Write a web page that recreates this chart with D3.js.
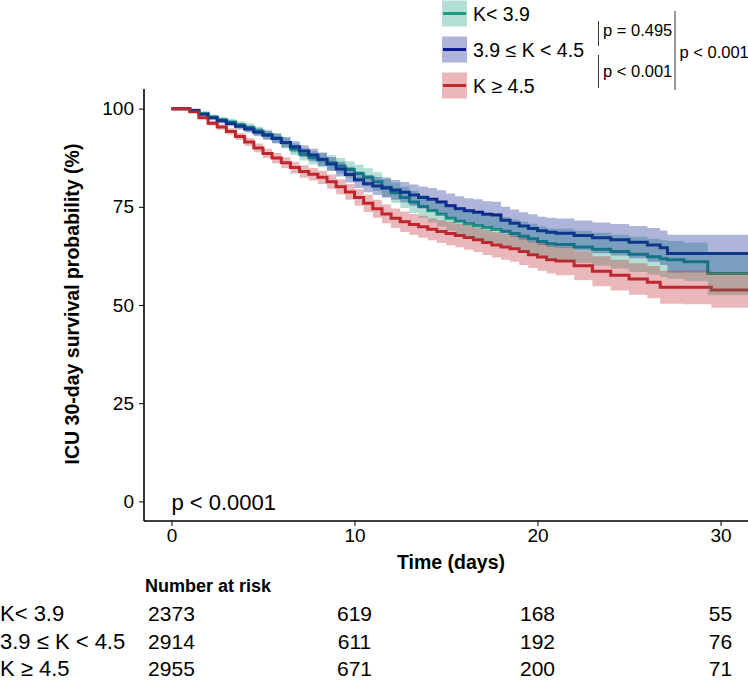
<!DOCTYPE html>
<html>
<head>
<meta charset="utf-8">
<script src="https://cdn.jsdelivr.net/npm/d3@7"></script>
<style>
  body { margin: 0; background: #fff; }
  svg text { font-family: "Liberation Sans", Arial, Helvetica, sans-serif; fill: #000; }
</style>
</head>
<body>
<svg id="svg" width="748" height="680"></svg>
<script>
// groups
var groups = ["K< 3.9", "3.9 \u2264 K < 4.5", "K \u2265 4.5"];
var colors = ["#1b9e84", "#0b1a8f", "#c0262d"];

// time grid (days) for the step curves
var days = [0, 1, 1.5, 2, 2.5, 3, 3.5, 4, 4.5, 5,
  5.5, 6, 6.5, 7, 7.5, 8, 8.5, 9, 9.5, 10,
  10.5, 11, 11.5, 12, 12.5, 13, 13.5, 14, 14.5, 15,
  15.5, 16, 16.5, 17, 17.5, 18, 18.5, 19, 19.5, 20,
  20.5, 21, 22, 23, 24, 25, 26, 26.7, 27.1, 28,
  29.3, 29.5, 31.5];

// survival (%)
var greenSurv = [100, 99.6, 98.8, 97.9, 97.2, 96.6, 95.9, 95.2, 94.3, 93.4,
  92.5, 91.3, 89.7, 88.4, 87.5, 86.9, 86.2, 85.4, 84.5, 83.5,
  82.5, 81.4, 80.0, 78.6, 77.4, 76.2, 75.1, 74.0, 73.1, 72.1,
  71.3, 70.7, 70.2, 69.7, 69.2, 68.8, 68.2, 67.5, 66.9, 66.2,
  65.6, 65.4, 64.8, 64.2, 63.6, 62.9, 62.3, 61.8, 61.5, 61.0,
  58.0, 58.0, 58.0];
var blueSurv = [100, 99.5, 98.6, 97.7, 96.9, 96.2, 95.5, 94.8, 94.0, 93.2,
  92.4, 91.4, 90.3, 89.2, 88.2, 87.1, 85.9, 84.6, 83.2, 81.9,
  80.9, 80.3, 79.8, 79.3, 78.7, 78.0, 77.4, 76.9, 76.2, 75.3,
  74.5, 74.0, 73.6, 73.1, 72.9, 71.6, 70.8, 70.1, 69.5, 68.9,
  68.5, 68.3, 67.7, 67.1, 66.6, 66.0, 65.3, 64.6, 63.1, 63.1,
  63.1, 63.1, 63.1];
var redSurv = [100, 99.2, 97.7, 96.3, 95.3, 94.2, 92.9, 91.5, 90.0, 88.6,
  87.4, 86.2, 85.0, 84.0, 83.3, 82.5, 81.4, 80.1, 78.8, 77.4,
  75.9, 74.5, 73.2, 72.1, 71.2, 70.5, 69.9, 69.3, 68.7, 68.2,
  67.7, 67.2, 66.6, 65.9, 65.3, 64.8, 64.3, 63.6, 62.8, 62.2,
  61.5, 61.2, 60.0, 58.6, 57.6, 56.6, 55.8, 54.5, 54.5, 54.5,
  54.5, 53.8, 53.8];

// confidence half-widths (%)
var greenCI = [0, 0.2, 0.4, 0.6, 0.7, 0.8, 0.9, 1.0, 1.1, 1.2,
  1.3, 1.4, 1.5, 1.6, 1.7, 1.8, 1.9, 2.0, 2.1, 2.2,
  2.3, 2.4, 2.5, 2.6, 2.7, 2.8, 2.9, 3.0, 3.1, 3.2,
  3.3, 3.4, 3.4, 3.5, 3.5, 3.6, 3.6, 3.7, 3.8, 3.8,
  3.9, 4.0, 4.1, 4.2, 4.3, 4.5, 4.6, 4.7, 4.8, 4.9,
  5.5, 5.5, 5.5];
var blueCI = [0, 0.2, 0.3, 0.5, 0.6, 0.7, 0.8, 0.9, 1.0, 1.1,
  1.2, 1.3, 1.4, 1.5, 1.6, 1.7, 1.8, 1.9, 2.0, 2.1,
  2.2, 2.3, 2.4, 2.5, 2.6, 2.7, 2.8, 2.9, 3.0, 3.1,
  3.2, 3.2, 3.3, 3.3, 3.4, 3.4, 3.5, 3.5, 3.6, 3.6,
  3.7, 3.7, 3.8, 3.9, 4.0, 4.1, 4.3, 4.4, 4.8, 4.8,
  4.8, 4.8, 4.8];
var redCI = [0, 0.2, 0.4, 0.6, 0.7, 0.8, 0.9, 1.0, 1.1, 1.2,
  1.3, 1.4, 1.5, 1.6, 1.6, 1.7, 1.8, 1.9, 2.0, 2.1,
  2.2, 2.3, 2.4, 2.5, 2.6, 2.7, 2.8, 2.8, 2.9, 3.0,
  3.0, 3.1, 3.1, 3.2, 3.2, 3.3, 3.3, 3.4, 3.4, 3.5,
  3.5, 3.6, 3.7, 3.8, 3.9, 4.0, 4.1, 4.2, 4.2, 4.3,
  4.3, 4.5, 4.5];

// number at risk
var riskTimes = [0, 10, 20, 30];
var riskGreen = [2373, 619, 168, 55];
var riskBlue = [2914, 611, 192, 76];
var riskRed = [2955, 671, 200, 71];

var xTicks = [0, 10, 20, 30];
var yTicks = [0, 25, 50, 75, 100];

var pairP = ["p = 0.495", "p < 0.001"];
var outerP = "p < 0.001";
var logRankP = "p < 0.0001";

var survs = [greenSurv, blueSurv, redSurv];
var cis = [greenCI, blueCI, redCI];
var risks = [riskGreen, riskBlue, riskRed];

var svg = d3.select("#svg");

var x = d3.scaleLinear().domain([-1.5, 31.5]).range([144, 748]);
var y = d3.scaleLinear().domain([-5, 105]).range([521, 89]);

var series = survs.map(function(s, g) {
  return days.map(function(t, i) {
    return { t: t, s: s[i], lo: s[i] - cis[g][i], hi: s[i] + cis[g][i] };
  });
});

var line = d3.line()
  .x(function(d) { return x(d.t); })
  .y(function(d) { return y(d.s); })
  .curve(d3.curveStepAfter);

var area = d3.area()
  .x(function(d) { return x(d.t); })
  .y0(function(d) { return y(d.lo); })
  .y1(function(d) { return y(d.hi); })
  .curve(d3.curveStepAfter);

// step lines first, ribbons on top (as in the original)
svg.append("g").selectAll("path")
  .data(series)
  .enter().append("path")
  .attr("d", line)
  .attr("fill", "none")
  .attr("stroke", function(d, i) { return colors[i]; })
  .attr("stroke-width", 3);

svg.append("g").selectAll("path")
  .data(series)
  .enter().append("path")
  .attr("d", area)
  .attr("fill", function(d, i) { return colors[i]; })
  .attr("fill-opacity", 0.33)
  .attr("stroke", "none");

// axes
var yAxis = svg.append("g")
  .attr("transform", "translate(144,0)")
  .call(d3.axisLeft(y).tickValues(yTicks).tickSize(5).tickPadding(5));
var xAxis = svg.append("g")
  .attr("transform", "translate(0,521)")
  .call(d3.axisBottom(x).tickValues(xTicks).tickSize(5).tickPadding(3));

[yAxis, xAxis].forEach(function(a) {
  a.select(".domain").attr("stroke", "#000").attr("stroke-width", 1.6);
  a.selectAll(".tick line").attr("stroke", "#000").attr("stroke-width", 1);
  a.selectAll(".tick text").attr("font-size", 19).attr("fill", "#000")
    .style("font-family", "'Liberation Sans', Arial, sans-serif");
});
// ggplot-style axis lines without end caps
yAxis.select(".domain").attr("d", "M0," + y.range()[0] + "V" + y.range()[1]);
xAxis.select(".domain").attr("d", "M" + x.range()[0] + ",0H" + x.range()[1]);

// axis titles
svg.append("text")
  .attr("transform", "translate(79,304) rotate(-90)")
  .attr("text-anchor", "middle")
  .attr("font-size", 19.5)
  .attr("font-weight", "bold")
  .text("ICU 30-day survival probability (%)");

svg.append("text")
  .attr("x", 451).attr("y", 569)
  .attr("text-anchor", "middle")
  .attr("font-size", 19.5)
  .attr("font-weight", "bold")
  .text("Time (days)");

// log-rank p
svg.append("text")
  .attr("x", x(0)).attr("y", y(0)).attr("dy", "0.38em")
  .attr("font-size", 22)
  .text(logRankP);

// legend
var legend = svg.append("g");
groups.forEach(function(name, i) {
  var cy = 13.5 + i * 36;
  legend.append("rect")
    .attr("x", 442).attr("y", cy - 13).attr("width", 25).attr("height", 26)
    .attr("fill", colors[i]).attr("fill-opacity", 0.33);
  legend.append("line")
    .attr("x1", 443).attr("x2", 466).attr("y1", cy).attr("y2", cy)
    .attr("stroke", colors[i]).attr("stroke-width", 3);
  legend.append("text")
    .attr("x", 473).attr("y", cy).attr("dy", "0.36em")
    .attr("font-size", 19.5)
    .text(name);
});

// pairwise p brackets
var br = svg.append("g").attr("stroke", "#333").attr("stroke-width", 1);
br.append("line").attr("x1", 598.5).attr("x2", 598.5).attr("y1", 21).attr("y2", 46);
br.append("line").attr("x1", 598.5).attr("x2", 598.5).attr("y1", 55).attr("y2", 88);
br.append("line").attr("x1", 675).attr("x2", 675).attr("y1", 11).attr("y2", 90);
svg.append("text").attr("x", 603).attr("y", 30).attr("dy", "0.36em")
  .attr("font-size", 16.5).text(pairP[0]);
svg.append("text").attr("x", 603).attr("y", 71).attr("dy", "0.36em")
  .attr("font-size", 16.5).text(pairP[1]);
svg.append("text").attr("x", 679.5).attr("y", 52).attr("dy", "0.36em")
  .attr("font-size", 16.5).text(outerP);

// risk table
svg.append("text")
  .attr("x", 145).attr("y", 592)
  .attr("font-size", 18)
  .attr("font-weight", "bold")
  .text("Number at risk");

var rowY = [613.5, 641.5, 668.5];
groups.forEach(function(name, g) {
  svg.append("text")
    .attr("x", 0).attr("y", rowY[g]).attr("dy", "0.36em")
    .attr("font-size", 22)
    .text(name);
  svg.append("g").selectAll("text")
    .data(risks[g])
    .enter().append("text")
    .attr("x", function(d, i) { return x(riskTimes[i]); })
    .attr("y", rowY[g]).attr("dy", "0.36em")
    .attr("text-anchor", "middle")
    .attr("font-size", 21)
    .text(function(d) { return d; });
});
</script>
</body>
</html>
